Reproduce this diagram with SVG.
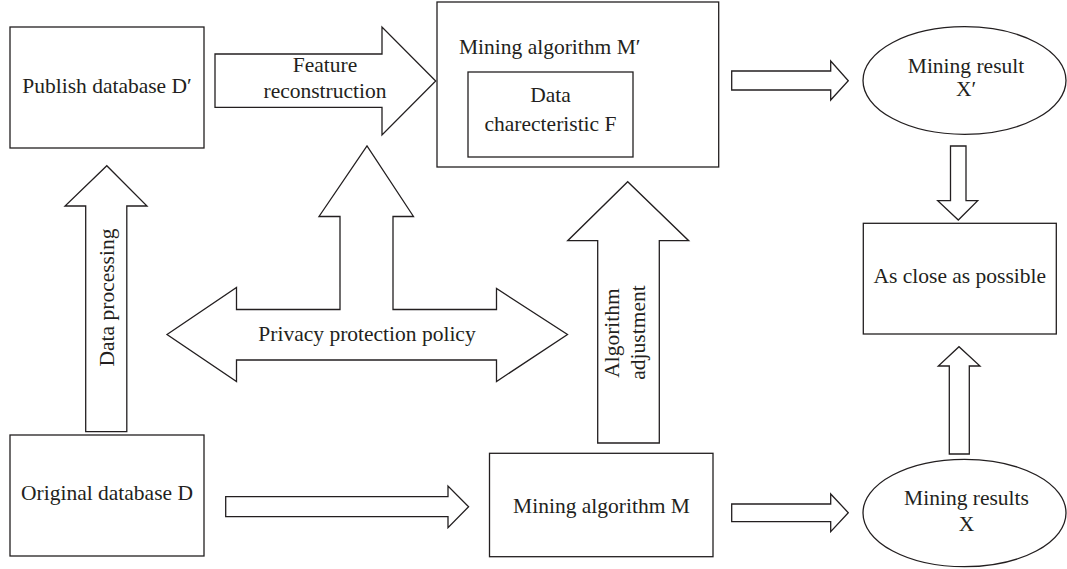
<svg xmlns="http://www.w3.org/2000/svg" width="1067" height="569" viewBox="0 0 1067 569">
<style>
.box{fill:#fff;stroke:#231f20;stroke-width:1.3}
.arr{fill:#fff;stroke:#231f20;stroke-width:1.3;stroke-linejoin:miter}
text{font-family:"Liberation Serif","Times New Roman",serif;font-size:21.5px;fill:#231f20}
.c{text-anchor:middle}
</style>
<rect width="1067" height="569" fill="#fff"/>
<g id="connectors">
  <g id="feature-reconstruction">
    <polygon class="arr" points="215,54 382,54 382,27 435.7,81 382,135 382,107.3 215,107.3"/>
    <text class="c" x="325" y="72">Feature</text>
    <text class="c" x="325" y="97.5">reconstruction</text>
  </g>
  <g id="data-processing">
    <polygon class="arr" points="85.7,431.7 85.7,206 65,206 106.8,165.7 147,206 126.8,206 126.8,431.7"/>
    <text class="c" transform="translate(113.5,297.5) rotate(-90)">Data processing</text>
  </g>
  <g id="privacy-protection-policy">
    <polygon class="arr" points="167,334.5 236.5,287.5 236.5,309.5 340,309.5 340,216.5 319,216.5 367,146 413.5,216.5 393,216.5 393,309.5 496.5,309.5 496.5,288.5 567.5,334.5 496.5,381.5 496.5,360 236.5,360 236.5,381.5"/>
    <text class="c" x="367" y="341">Privacy protection policy</text>
  </g>
  <g id="algorithm-adjustment">
    <polygon class="arr" points="597.7,443 597.7,240.7 567.7,240.7 627.7,181.7 688.7,240.7 659.3,240.7 659.3,443"/>
    <text class="c" transform="translate(619,333) rotate(-90)">Algorithm</text>
    <text class="c" transform="translate(645,332.5) rotate(-90)">adjustment</text>
  </g>
  <polygon id="orig-to-m" class="arr" points="225.7,496.7 448,496.7 448,486 468.6,506.7 448,527.7 448,516.7 225.7,516.7"/>
  <polygon id="mprime-to-xprime" class="arr" points="731.7,71 830.7,71 830.7,61 848.3,80.7 830.7,100 830.7,90 731.7,90"/>
  <polygon id="m-to-x" class="arr" points="731.7,504 830.7,504 830.7,494 848.3,512.7 830.7,531.7 830.7,521.7 731.7,521.7"/>
  <polygon id="xprime-to-close" class="arr" points="950.5,146 966,146 966,200.7 977.7,200.7 958.3,220 937.7,200.7 950.5,200.7"/>
  <polygon id="x-to-close" class="arr" points="949.3,454 949.3,366 938.3,366 959,346.7 980,366 969.3,366 969.3,454"/>
</g>
<g id="publish-database">
  <rect class="box" x="10" y="27" width="194" height="121"/>
  <text class="c" x="107" y="93">Publish database D′</text>
</g>
<g id="original-database">
  <rect class="box" x="10" y="435" width="194" height="121"/>
  <text class="c" x="107" y="500">Original database D</text>
</g>
<g id="mining-algorithm-m-prime">
  <rect class="box" x="437" y="2" width="281.7" height="165"/>
  <text x="459" y="54">Mining algorithm M′</text>
</g>
<g id="data-characteristic">
  <rect class="box" x="468" y="72" width="165" height="85"/>
  <text class="c" x="550.5" y="102">Data</text>
  <text class="c" x="550.5" y="130.5">charecteristic F</text>
</g>
<g id="mining-algorithm-m">
  <rect class="box" x="489.5" y="453.3" width="223.5" height="103.4"/>
  <text class="c" x="601.5" y="512.5">Mining algorithm M</text>
</g>
<g id="mining-result-x-prime">
  <ellipse class="box" cx="964.5" cy="80.5" rx="101.5" ry="53.8"/>
  <text class="c" x="966" y="73">Mining result</text>
  <text class="c" x="966" y="95.5">X′</text>
</g>
<g id="as-close-as-possible">
  <rect class="box" x="863.3" y="223.3" width="193" height="110.7"/>
  <text class="c" x="959.8" y="283">As close as possible</text>
</g>
<g id="mining-results-x">
  <ellipse class="box" cx="964.5" cy="513" rx="101.5" ry="53.7"/>
  <text class="c" x="966.5" y="505">Mining results</text>
  <text class="c" x="966.5" y="531">X</text>
</g>
</svg>
